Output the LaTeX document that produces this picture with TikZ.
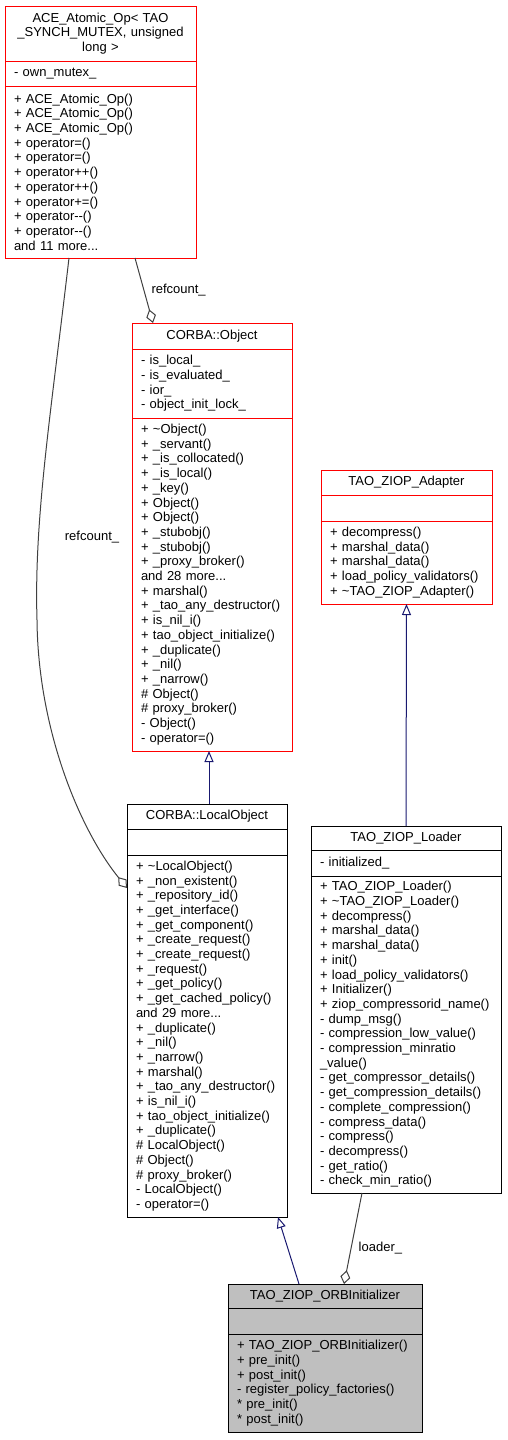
\documentclass[tikz,border=0pt]{standalone}
\usepackage{fontspec}
\setmainfont{Liberation Sans}
\usetikzlibrary{arrows.meta,calc,positioning}
\definecolor{midnight}{HTML}{191970}
\definecolor{edgegray}{HTML}{404040}
\definecolor{nodegray}{HTML}{BFBFBF}

\begin{document}
\begin{tikzpicture}[x=1pt, y=-1pt,
  every node/.style={font=\fontsize{13}{14.7}\selectfont},
  box/.style={draw, rectangle, line width=1pt, outer sep=0pt, inner xsep=9pt, inner ysep=4pt, align=left, anchor=north},
  hot/.style={box, draw=red},
  cold/.style={box, draw=black},
  inh/.style={draw=midnight, line width=1pt, -{Triangle[open, length=11pt, width=9pt]}},
  agg/.style={draw=edgegray, line width=1pt, -{Diamond[open, length=14pt, width=10pt]}},
  lbl/.style={inner sep=1pt}]
  \useasboundingbox (0,0) rectangle (507,1440);

  % ACE_Atomic_Op
  \node[hot, text width=173pt, minimum height=55pt, align=center] (aceT) at (100.5,6)
    {ACE\_Atomic\_Op< TAO\\\_SYNCH\_MUTEX, unsigned\\long >};
  \node[hot, text width=173pt, minimum height=25pt, below=0pt of aceT] (aceA) {- own\_mutex\_};
  \node[hot, text width=173pt, minimum height=172pt, below=0pt of aceA] (aceM)
    {+ ACE\_Atomic\_Op()\\+ ACE\_Atomic\_Op()\\+ ACE\_Atomic\_Op()\\+ operator=()\\+ operator=()\\
     + operator++()\\+ operator++()\\+ operator+=()\\+ operator-{}-()\\+ operator-{}-()\\and 11 more...};

  % CORBA::Object
  \node[hot, text width=142pt, minimum height=26pt, align=center] (objT) at (212,323) {CORBA::Object};
  \node[hot, text width=142pt, minimum height=69pt, below=0pt of objT] (objA)
    {- is\_local\_\\- is\_evaluated\_\\- ior\_\\- object\_init\_lock\_};
  \node[hot, text width=142pt, minimum height=333pt, below=0pt of objA] (objM)
    {+ \textasciitilde{}Object()\\+ \_servant()\\+ \_is\_collocated()\\+ \_is\_local()\\+ \_key()\\
     + Object()\\+ Object()\\+ \_stubobj()\\+ \_stubobj()\\+ \_proxy\_broker()\\and 28 more...\\
     + marshal()\\+ \_tao\_any\_destructor()\\+ is\_nil\_i()\\+ tao\_object\_initialize()\\
     + \_duplicate()\\+ \_nil()\\+ \_narrow()\\\# Object()\\\# proxy\_broker()\\- Object()\\- operator=()};

  % CORBA::LocalObject
  \node[cold, text width=142pt, minimum height=25pt, align=center] (locT) at (207,804) {CORBA::LocalObject};
  \node[cold, text width=142pt, minimum height=26pt, below=0pt of locT] (locA) {};
  \node[cold, text width=142pt, minimum height=362pt, below=0pt of locA] (locM)
    {+ \textasciitilde{}LocalObject()\\+ \_non\_existent()\\+ \_repository\_id()\\+ \_get\_interface()\\
     + \_get\_component()\\+ \_create\_request()\\+ \_create\_request()\\+ \_request()\\
     + \_get\_policy()\\+ \_get\_cached\_policy()\\and 29 more...\\+ \_duplicate()\\+ \_nil()\\
     + \_narrow()\\+ marshal()\\+ \_tao\_any\_destructor()\\+ is\_nil\_i()\\+ tao\_object\_initialize()\\
     + \_duplicate()\\\# LocalObject()\\\# Object()\\\# proxy\_broker()\\- LocalObject()\\- operator=()};

  % TAO_ZIOP_Adapter
  \node[hot, text width=153pt, minimum height=25pt, align=center] (adpT) at (406.5,470) {TAO\_ZIOP\_Adapter};
  \node[hot, text width=153pt, minimum height=26pt, below=0pt of adpT] (adpA) {};
  \node[hot, text width=153pt, minimum height=83pt, below=0pt of adpA] (adpM)
    {+ decompress()\\+ marshal\_data()\\+ marshal\_data()\\+ load\_policy\_validators()\\
     + \textasciitilde{}TAO\_ZIOP\_Adapter()};

  % TAO_ZIOP_Loader
  \node[cold, text width=172pt, minimum height=24pt, align=center] (ldrT) at (406,826) {TAO\_ZIOP\_Loader};
  \node[cold, text width=172pt, minimum height=26pt, below=0pt of ldrT] (ldrA) {- initialized\_};
  \node[cold, text width=172pt, minimum height=317pt, below=0pt of ldrA] (ldrM)
    {+ TAO\_ZIOP\_Loader()\\+ \textasciitilde{}TAO\_ZIOP\_Loader()\\+ decompress()\\+ marshal\_data()\\
     + marshal\_data()\\+ init()\\+ load\_policy\_validators()\\+ Initializer()\\
     + ziop\_compressorid\_name()\\- dump\_msg()\\- compression\_low\_value()\\
     - compression\_minratio\\\_value()\\- get\_compressor\_details()\\- get\_compression\_details()\\
     - complete\_compression()\\- compress\_data()\\- compress()\\- decompress()\\- get\_ratio()\\
     - check\_min\_ratio()};

  % TAO_ZIOP_ORBInitializer
  \node[cold, fill=nodegray, text width=176pt, minimum height=24pt, align=center] (orbT) at (325,1284)
    {TAO\_ZIOP\_ORBInitializer};
  \node[cold, fill=nodegray, text width=176pt, minimum height=26pt, below=0pt of orbT] (orbA) {};
  \node[cold, fill=nodegray, text width=176pt, minimum height=98pt, below=0pt of orbA] (orbM)
    {+ TAO\_ZIOP\_ORBInitializer()\\+ pre\_init()\\+ post\_init()\\- register\_policy\_factories()\\
     {*} pre\_init()\\{*} post\_init()};

  % relations
  \draw[agg] ([xshift=34.5pt]aceM.south) -- node[lbl, right=6pt] (rc1) {refcount\_} ([xshift=-59pt]objT.north);
  \draw[agg] ([xshift=-31.5pt]aceM.south) .. controls (50,420) and (34,520) .. (37,620)
    .. controls (38,730) and (80,830) .. ([yshift=-33pt]locM.north west);
  \node[lbl] (rc2) at (92,537) {refcount\_};
  \draw[inh] ([xshift=2pt]locT.north) -- ([xshift=-3pt]objM.south);
  \draw[inh] (ldrT.north) -- (adpM.south);
  \draw[inh] ([xshift=-26pt]orbT.north) -- ([xshift=71pt]locM.south);
  \draw[agg] ([xshift=-44pt]ldrM.south) -- node[lbl, right=6pt, pos=0.6] (ld) {loader\_} ([xshift=19pt]orbT.north);
\end{tikzpicture}
\end{document}
